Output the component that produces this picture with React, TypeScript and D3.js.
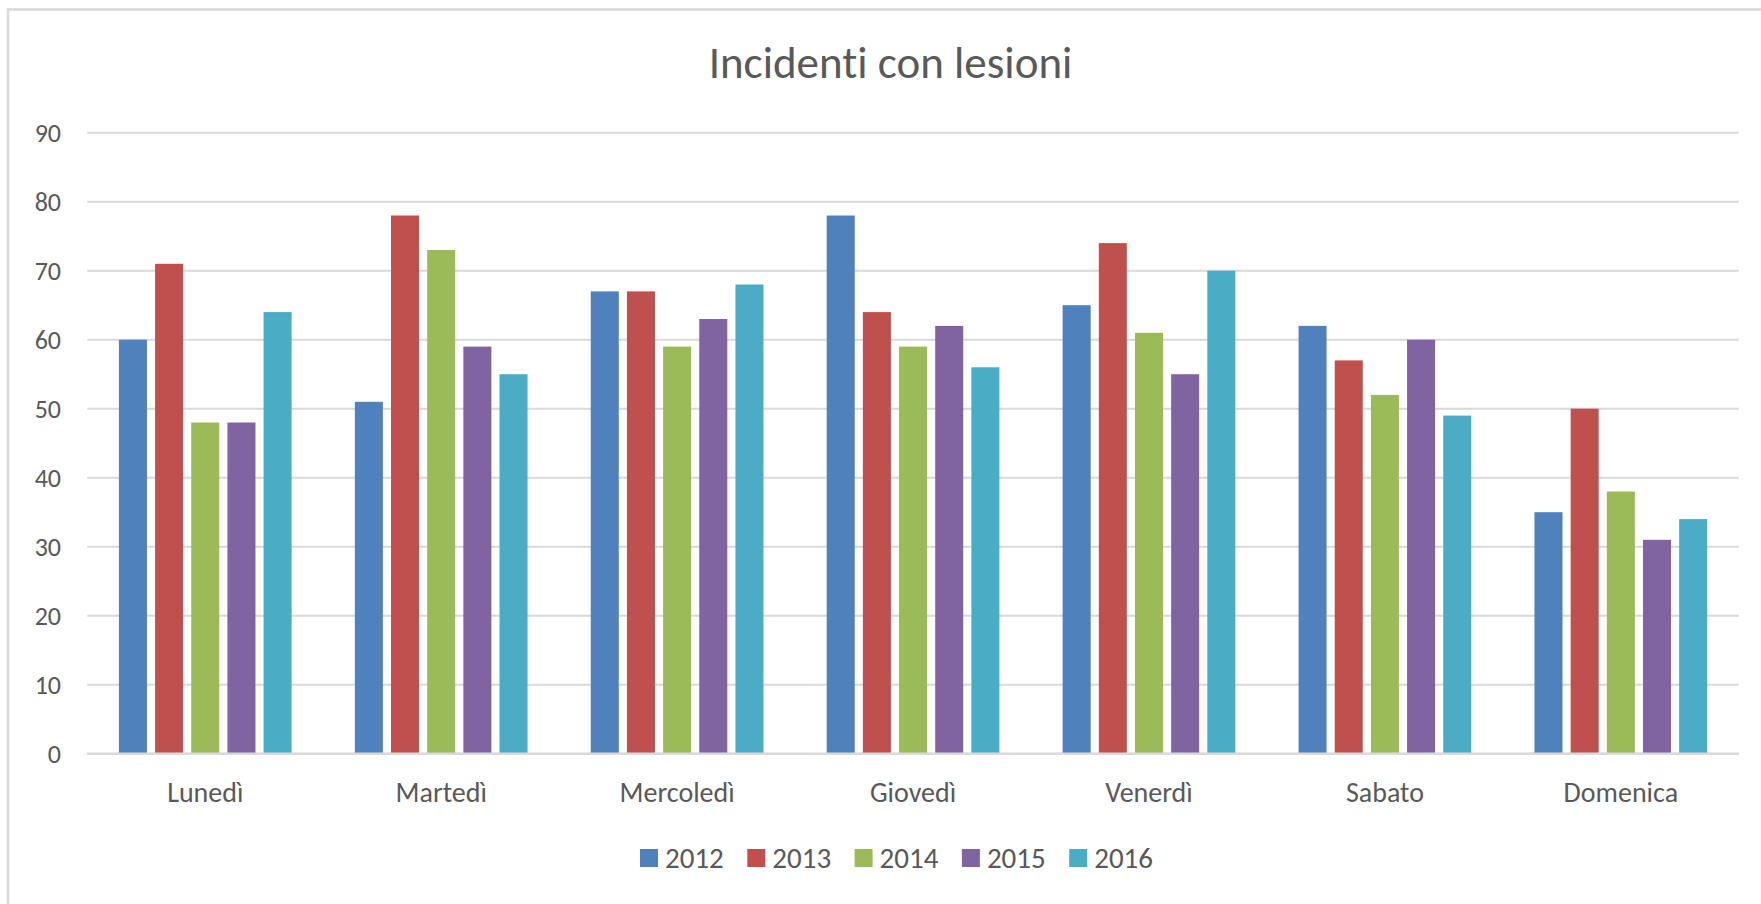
import React from "react";
import * as d3 from "d3";

const categories = ["Lunedì", "Martedì", "Mercoledì", "Giovedì", "Venerdì", "Sabato", "Domenica"];
const seriesNames = ["2012", "2013", "2014", "2015", "2016"];
const s2012 = [60, 51, 67, 78, 65, 62, 35];
const s2013 = [71, 78, 67, 64, 74, 57, 50];
const s2014 = [48, 73, 59, 59, 61, 52, 38];
const s2015 = [48, 59, 63, 62, 55, 60, 31];
const s2016 = [64, 55, 68, 56, 70, 49, 34];
const seriesValues = [s2012, s2013, s2014, s2015, s2016];
const colors = ["#4F81BD", "#C0504D", "#9BBB59", "#8064A2", "#4BACC6"];
const yTicks = [0, 10, 20, 30, 40, 50, 60, 70, 80, 90];
const title = "Incidenti con lesioni";

const W = 1761;
const H = 904;
const FONT = "Calibri, Carlito, Lato, sans-serif";
const TEXT = "#595959";
const GRID = "#d9d9d9";

export default function App() {
  const x0 = d3
    .scaleBand<string>()
    .domain(categories)
    .range([87.3, 1738.8])
    .paddingInner(0.268)
    .paddingOuter(0.134);
  const x1 = d3
    .scaleBand<string>()
    .domain(seriesNames)
    .range([0, x0.bandwidth()])
    .paddingInner(0.225)
    .paddingOuter(0);
  const y = d3.scaleLinear().domain([0, 90]).range([753.7, 132.7]);
  const [xl, xr] = x0.range();

  const legendStart = 640;
  const legendStep = 107.3;

  return (
    <svg
      width={W}
      height={H}
      style={{ position: "fixed", left: 0, top: 0, background: "#fff", fontVariantLigatures: "none" }}
      fontFamily={FONT}
    >
      <rect x={0} y={0} width={W} height={H} fill="#fff" />
      <rect x={8} y={9.5} width={W} height={H} fill="none" stroke={GRID} strokeWidth={2.5} />
      <text x={890.5} y={78} textAnchor="middle" fontSize={45} fill={TEXT}>
        {title}
      </text>
      {yTicks.map((t) => (
        <g key={t}>
          <line x1={xl} x2={xr} y1={y(t)} y2={y(t)} stroke={GRID} strokeWidth={2} />
          <text x={61} y={y(t)} dy="0.36em" textAnchor="end" fontSize={26} fill={TEXT}>
            {t}
          </text>
        </g>
      ))}
      {categories.map((c, ci) => (
        <g key={c}>
          {seriesNames.map((s, si) => (
            <rect
              key={s}
              x={(x0(c) as number) + (x1(s) as number)}
              y={y(seriesValues[si][ci])}
              width={x1.bandwidth()}
              height={y(0) - y(seriesValues[si][ci])}
              fill={colors[si]}
            />
          ))}
          <text
            x={(x0(c) as number) + x0.bandwidth() / 2}
            y={802}
            textAnchor="middle"
            fontSize={28}
            fill={TEXT}
          >
            {c}
          </text>
        </g>
      ))}
      <line x1={xl} x2={xr} y1={y(0)} y2={y(0)} stroke={GRID} strokeWidth={2.2} />
      {seriesNames.map((s, si) => (
        <g key={s} transform={`translate(${legendStart + si * legendStep},0)`}>
          <rect x={0} y={849} width={18} height={18} fill={colors[si]} />
          <text x={25} y={867.5} fontSize={29} fill={TEXT}>
            {s}
          </text>
        </g>
      ))}
    </svg>
  );
}
